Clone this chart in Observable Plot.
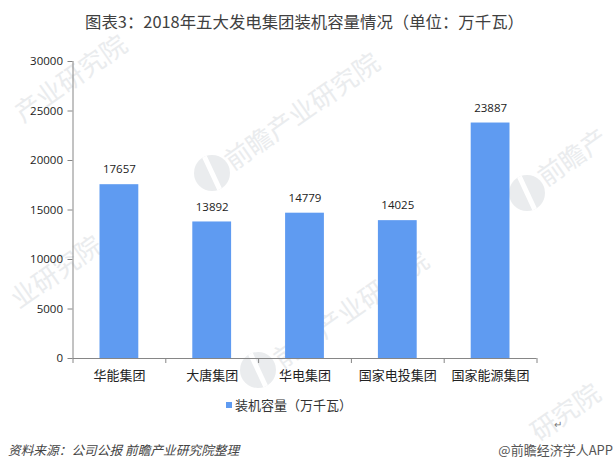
<!DOCTYPE html>
<html><head><meta charset="utf-8">
<script src="https://cdn.jsdelivr.net/npm/d3@7"></script>
<script src="https://cdn.jsdelivr.net/npm/@observablehq/plot@0.6"></script>
<style>
html,body{margin:0;padding:0;background:#fff;overflow:hidden}
#page{position:relative;width:613px;height:471px;font-family:"Noto Sans CJK SC",sans-serif;overflow:hidden}
#title{position:absolute;left:0;width:609px;top:9px;text-align:center;font-size:16.4px;line-height:24px;color:#404040;white-space:nowrap;z-index:2}
#chart{position:absolute;left:0;top:40px;z-index:1}
#legend{position:absolute;left:226px;top:396px;font-size:13px;line-height:18px;color:#333;white-space:nowrap;z-index:2}
#legend i{display:inline-block;width:6px;height:6px;background:#5f9bf1;margin-right:3px;vertical-align:2px}
#source{position:absolute;left:8px;top:441px;font-size:12.7px;line-height:18px;font-style:italic;color:#444;white-space:nowrap;z-index:2}
#brand{position:absolute;right:0;top:441px;font-size:13px;line-height:18px;color:#555;white-space:nowrap;z-index:2}
#ret{position:absolute;left:554px;top:417px;font-size:10px;line-height:14px;color:#777;z-index:2}
.wm{position:absolute;font-size:26px;line-height:30px;color:#eaecee;transform:rotate(-35deg);transform-origin:left top;white-space:nowrap;z-index:0}
.logo{position:absolute;width:36px;height:36px;border-radius:50%;background:#eaecee;z-index:0;overflow:hidden}
.logo::after{content:"";position:absolute;left:16px;top:-4px;width:5px;height:46px;background:#fff;transform:rotate(-25deg)}
</style></head><body>
<div id="page">
<div id="title">图表3：2018年五大发电集团装机容量情况（单位：万千瓦）</div>
<span class="wm" style="left:8px;top:102px">产业研究院</span>
<span class="logo" style="left:194px;top:155px"></span>
<span class="wm" style="left:218px;top:150px">前瞻产业研究院</span>
<span class="logo" style="left:509px;top:175px"></span>
<span class="wm" style="left:531px;top:166px">前瞻产</span>
<span class="wm" style="left:4px;top:288px">业研究院</span>
<span class="logo" style="left:240px;top:352px"></span>
<span class="wm" style="left:267px;top:348px">前瞻产业研究院</span>
<span class="wm" style="left:524px;top:421px">研究院</span>
<div id="chart"></div>
<div id="legend"><i></i>装机容量（万千瓦）</div>
<div id="ret">↵</div>
<div id="source">资料来源：公司公报 前瞻产业研究院整理</div>
<div id="brand">@前瞻经济学人APP</div>
</div>
<script>
const categories = ["华能集团","大唐集团","华电集团","国家电投集团","国家能源集团"];
const capacity = [17657,13892,14779,14025,23887];
const yTicks = [0,5000,10000,15000,20000,25000,30000];
const rows = categories.map((name,i)=>({name,value:capacity[i]}));
const W = 613, H = 345, ml = 72.5, mr = 76.5, mt = 21, mb = 27;
const half = (W-ml-mr)/categories.length/2;
const axisColor = "#868686";
const font = "Noto Sans CJK SC";
const plot = Plot.plot({
  width:W, height:H, marginLeft:ml, marginRight:mr, marginTop:mt, marginBottom:mb,
  style:{fontFamily:font,background:"transparent",overflow:"visible"},
  x:{domain:categories,padding:0,round:false,label:null},
  y:{domain:[0,30000],label:null},
  marks:[
    Plot.barY(rows,{x:"name",y:"value",fill:"#5f9bf1",insetLeft:27,insetRight:27,insetTop:1}),
    Plot.ruleY([0],{stroke:axisColor}),
    Plot.ruleX([categories[0]],{x:d=>d,dx:-half,y1:0,y2:30000,stroke:axisColor}),
    Plot.ruleX(categories,{x:d=>d,dx:-half,y1:0,y2:0,insetBottom:-5,stroke:axisColor}),
    Plot.ruleX([categories[categories.length-1]],{x:d=>d,dx:half,y1:0,y2:0,insetBottom:-5,stroke:axisColor}),
    Plot.axisY({ticks:yTicks,tickFormat:d=>String(d),tickSize:5,tickPadding:5,stroke:axisColor,color:"#222",fontSize:11.5,label:null,fontFamily:"Open Sans"}),
    Plot.axisX({tickSize:0,tickPadding:12,color:"#222",fontSize:13,label:null}),
    Plot.text(rows,{x:"name",y:"value",text:d=>String(d.value),dy:-14,fill:"#222",fontSize:11.5,fontFamily:"Open Sans"})
  ]
});
document.getElementById("chart").append(plot);
</script>
</body></html>
